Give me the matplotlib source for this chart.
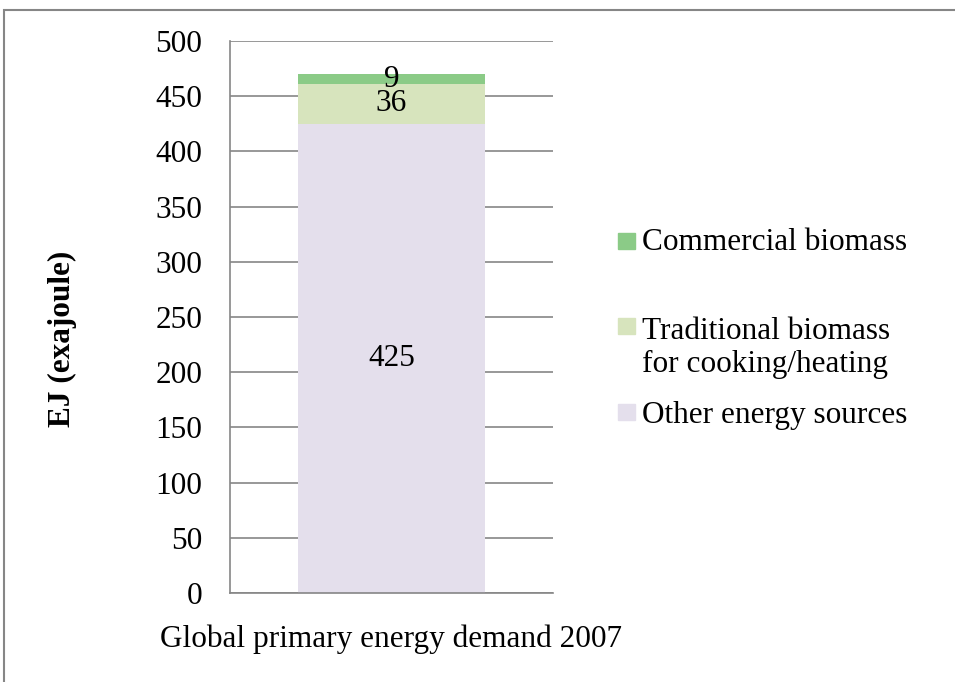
import matplotlib.pyplot as plt
from matplotlib.patches import Rectangle

# Data
category = ['Global primary energy demand 2007']
series_names = ['Other energy sources', 'Traditional biomass\nfor cooking/heating', 'Commercial biomass']
series_values = [425, 36, 9]
series_colors = ['#E4DFEC', '#D7E4BD', '#8BCB87']
y_ticks = [0, 50, 100, 150, 200, 250, 300, 350, 400, 450, 500]

plt.rcParams['font.family'] = ['Liberation Serif', 'DejaVu Serif']
FS = 22.5
W, H = 955, 682

fig = plt.figure(figsize=(W / 100, H / 100), dpi=100)
ax = fig.add_axes([230 / W, 1 - 593 / H, 323 / W, 552 / H])

# Stacked bar
bottom = 0
for name, val, col in zip(series_names, series_values, series_colors):
    ax.bar(0, val, width=0.579, bottom=bottom, color=col, label=name, zorder=2)
    ax.text(0, bottom + val / 2, str(val), ha='center', va='center', fontsize=FS, zorder=3)
    bottom += val

ax.set_xlim(-0.5, 0.5)
ax.set_ylim(0, 500)
ax.set_yticks(y_ticks)
ax.tick_params(axis='y', length=0, labelsize=FS, pad=20)
ax.set_xticks([])
ax.yaxis.grid(True, color='#868686', linewidth=1.2, zorder=0)
ax.set_axisbelow(True)
for s in ['top', 'right']:
    ax.spines[s].set_visible(False)
for s in ['left', 'bottom']:
    ax.spines[s].set_color('#868686')
    ax.spines[s].set_linewidth(1.2)

ax.set_xlabel(category[0], fontsize=FS, labelpad=23)
ax.set_ylabel('EJ (exajoule)', fontsize=FS, fontweight='bold')
ax.yaxis.set_label_coords(-0.52, 0.46)
ax.yaxis.label.set_va('center')

# Legend drawn by hand (commercial on top) to keep the uneven spacing
square_y = [412, 326, 241]   # pixel centres of the legend squares
text_y = [416, 348, 243]     # pixel centres of the legend texts
for name, col, sy, ty in zip(series_names, series_colors, square_y, text_y):
    fig.patches.append(Rectangle((618 / W, 1 - (sy + 8) / H), 17 / W, 16 / H,
                                 transform=fig.transFigure, color=col))
    fig.text(642 / W, 1 - ty / H, name, fontsize=FS, ha='left', va='center',
             linespacing=1.2)

# Outer border of the chart area
fig.patches.append(Rectangle((4 / W, -0.05), 1.0, 1 - 10 / H + 0.05,
                             transform=fig.transFigure, fill=False,
                             edgecolor='#868686', linewidth=1.5))

fig.savefig('out.png', dpi=100)
